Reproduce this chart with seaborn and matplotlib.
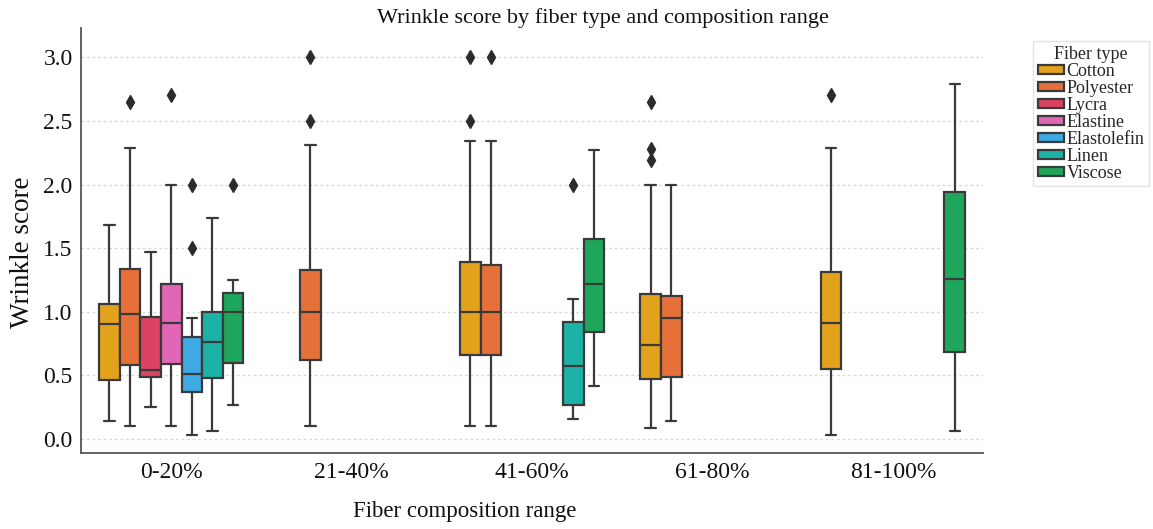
import pandas as pd
import seaborn as sns
import matplotlib.pyplot as plt

# --- data ---
ranges = ["0-20%", "21-40%", "41-60%", "61-80%", "81-100%"]
fibers = ["Cotton", "Polyester", "Lycra", "Elastine", "Elastolefin", "Linen", "Viscose"]
colors = ["#e3a21c", "#e5703a", "#dc4363", "#e266b6", "#3ea9e2", "#1cb3a6", "#1ea75a"]

box_range = ["0-20%", "0-20%", "0-20%", "0-20%", "0-20%", "0-20%", "0-20%",
             "21-40%",
             "41-60%", "41-60%", "41-60%", "41-60%",
             "61-80%", "61-80%",
             "81-100%", "81-100%"]
box_fiber = ["Cotton", "Polyester", "Lycra", "Elastine", "Elastolefin", "Linen", "Viscose",
             "Polyester",
             "Cotton", "Polyester", "Linen", "Viscose",
             "Cotton", "Polyester",
             "Cotton", "Viscose"]
whisker_low = [0.14, 0.10, 0.25, 0.10, 0.03, 0.06, 0.27,
               0.10,
               0.10, 0.10, 0.16, 0.42,
               0.09, 0.14,
               0.03, 0.06]
q1 = [0.46, 0.58, 0.49, 0.59, 0.37, 0.48, 0.60,
      0.62,
      0.66, 0.66, 0.27, 0.84,
      0.47, 0.49,
      0.55, 0.68]
median = [0.90, 0.98, 0.54, 0.91, 0.51, 0.76, 1.00,
          1.00,
          1.00, 1.00, 0.57, 1.22,
          0.74, 0.95,
          0.91, 1.26]
q3 = [1.06, 1.34, 0.96, 1.22, 0.80, 1.00, 1.15,
      1.33,
      1.39, 1.37, 0.92, 1.57,
      1.14, 1.12,
      1.31, 1.94]
whisker_high = [1.68, 2.29, 1.47, 2.00, 0.95, 1.74, 1.25,
                2.31,
                2.34, 2.34, 1.10, 2.27,
                2.00, 2.00,
                2.29, 2.79]
outliers = [[], [2.65], [], [2.70], [1.50, 2.00], [], [2.00],
            [2.50, 3.00],
            [2.50, 3.00], [3.00], [2.00], [],
            [2.19, 2.28, 2.65], [],
            [2.70], []]

# rebuild a sample per box whose quartiles / whiskers / fliers match the read values
rows = []
for i in range(len(box_range)):
    k = len(outliers[i])
    r = k + 2
    vals = ([whisker_low[i]] * (1 + k) + [q1[i]] * r + [median[i]]
            + [q3[i]] * r + [whisker_high[i]] + outliers[i])
    for v in vals:
        rows.append({"range": box_range[i], "fiber": box_fiber[i], "score": v})
df = pd.DataFrame(rows)

# --- plot ---
sns.set_theme(style="white")
plt.rcParams['font.family'] = ['Liberation Serif', 'DejaVu Serif']

fig = plt.figure(figsize=(11.53, 5.29), dpi=100)
ax = fig.add_axes([0.0703, 0.1437, 0.7823, 0.8033])

sns.boxplot(data=df, x="range", y="score", hue="fiber", order=ranges, hue_order=fibers,
            palette=colors, saturation=1, width=0.8, linewidth=1.6, linecolor="#3a3a3a",
            flierprops=dict(marker="d", markerfacecolor="#2b2b2b", markeredgecolor="#2b2b2b",
                            markersize=7),
            ax=ax)

ax.set_ylim(-0.11, 3.23)
ax.set_xlim(-0.5, 4.5)
ax.set_yticks([0.0, 0.5, 1.0, 1.5, 2.0, 2.5, 3.0])
ax.set_yticklabels(["0.0", "0.5", "1.0", "1.5", "2.0", "2.5", "3.0"])
ax.yaxis.grid(True, linestyle=(0, (2, 2)), color="#d9d9d9", linewidth=1)
ax.set_axisbelow(True)
for s in ["top", "right"]:
    ax.spines[s].set_visible(False)
for s in ["left", "bottom"]:
    ax.spines[s].set_color("#555555")
    ax.spines[s].set_linewidth(1.3)
ax.tick_params(axis="both", labelsize=17, length=4, color="#555555", colors="#111111")
ax.tick_params(axis="x", direction="inout", length=6)
ax.tick_params(axis="y", direction="in", length=0, pad=6)
ax.set_xlabel("")
ax.set_ylabel("")

fig.text(603 / 1153, 1 - 18 / 529, "Wrinkle score by fiber type and composition range",
         ha="center", va="center", fontsize=16, color="#111111")
fig.text(465 / 1153, 1 - 511 / 529, "Fiber composition range",
         ha="center", va="center", fontsize=16.5, color="#111111")
fig.text(23 / 1153, 1 - 252 / 529, "Wrinkle score", rotation=90,
         ha="center", va="center", fontsize=19.5, color="#111111")

ax.legend(title="Fiber type", loc="upper left", bbox_to_anchor=(1033 / 1153, 1 - 41 / 529),
          bbox_transform=fig.transFigure, fontsize=13, title_fontsize=13,
          frameon=True, edgecolor="#dddddd", fancybox=False,
          handlelength=1.45, handleheight=0.4, handletextpad=0.15,
          labelspacing=0.0, borderpad=0.25, borderaxespad=0)

fig.savefig("out.png", dpi=100)
